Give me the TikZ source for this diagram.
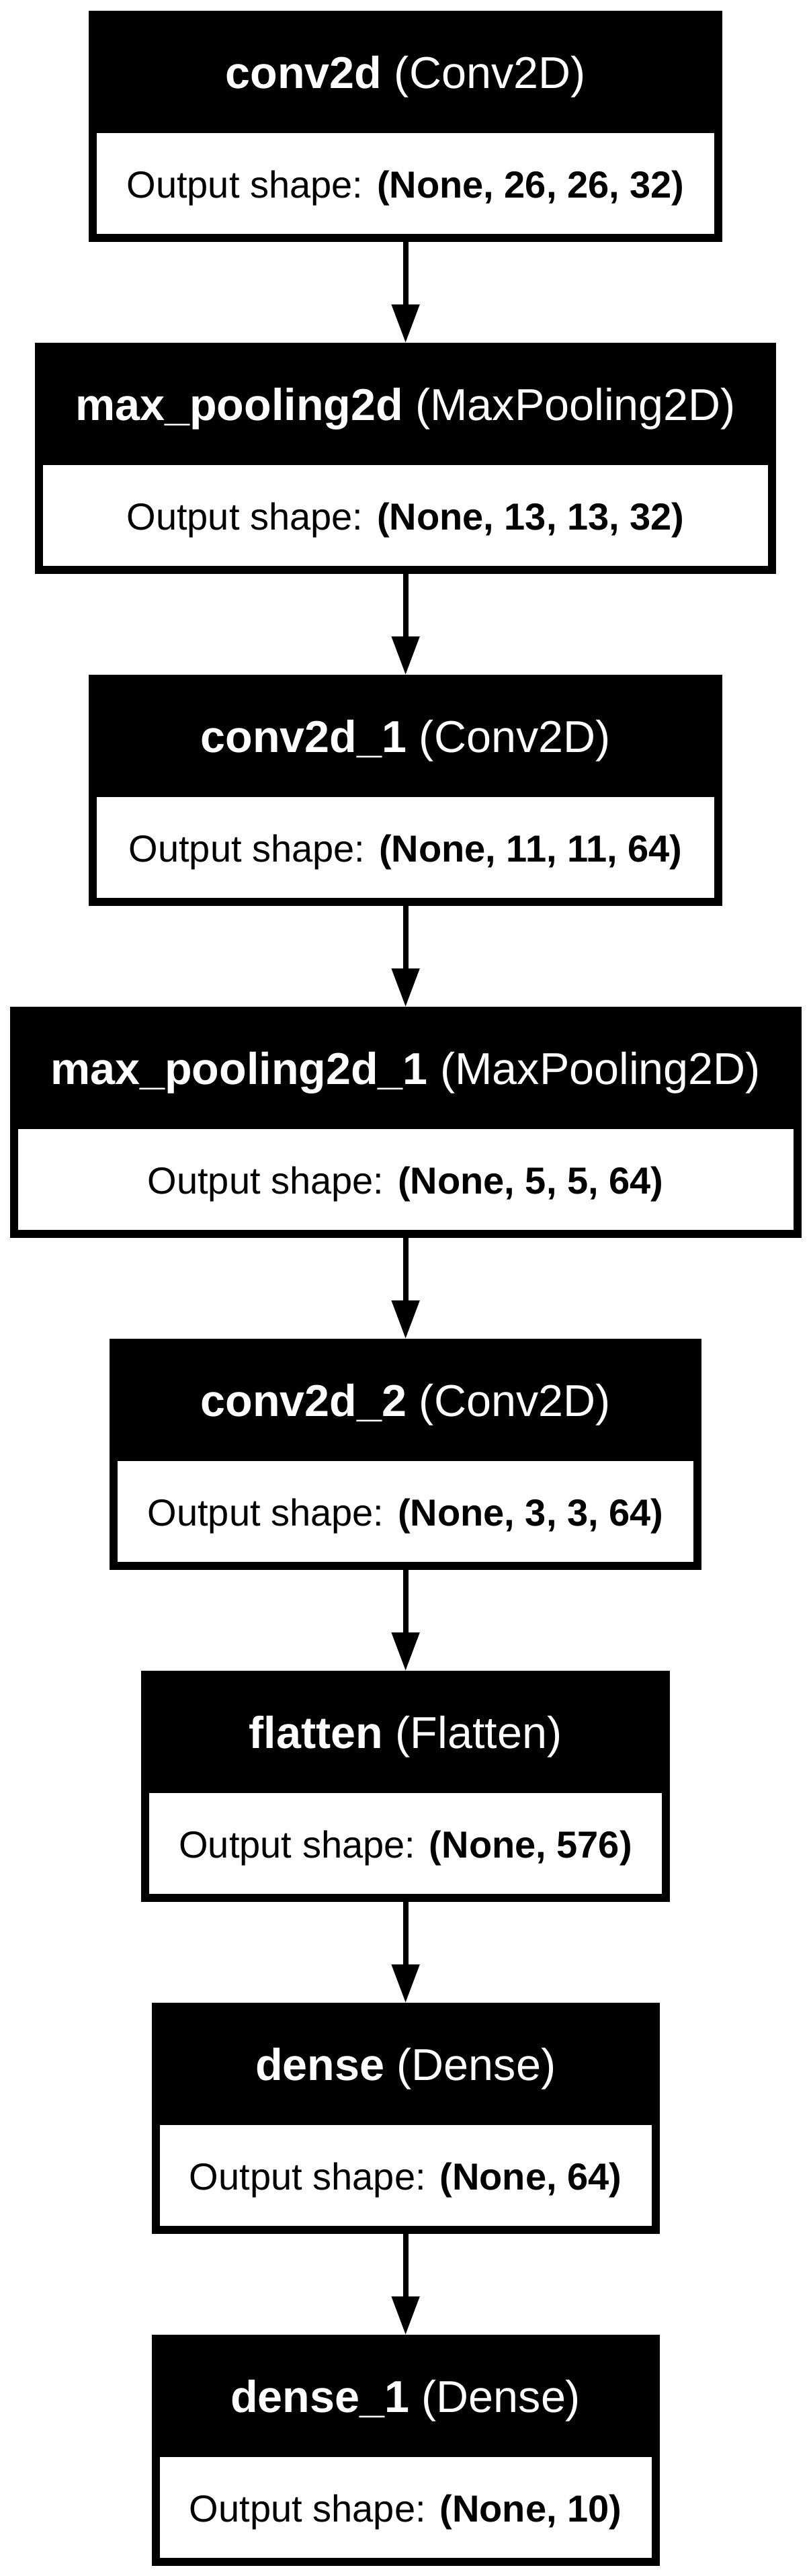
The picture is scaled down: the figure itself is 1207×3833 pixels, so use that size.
\documentclass[tikz,border=0pt]{standalone}
\usepackage{fontspec}
\setmainfont{Liberation Sans}
\usetikzlibrary{arrows.meta}
\tikzset{
  outerbox/.style={fill=black, draw=none, inner sep=0pt, minimum height=344pt, anchor=north},
  innerbox/.style={fill=white, draw=none, inner sep=0pt, minimum height=150pt, anchor=north},
  headtext/.style={text=white, font=\fontsize{66.5}{80}\selectfont, anchor=base, inner sep=0pt},
  bodytext/.style={text=black, font=\fontsize{56}{67}\selectfont, anchor=base, inner sep=0pt},
  flow/.style={line width=8pt, -{Triangle[length=57pt,width=40pt]}},
}
\newcommand{\kLayer}[6]{%
  \pgfmathsetmacro\kty{16+494*#2}%
  \pgfmathsetmacro\kiw{#3-24}%
  \node[outerbox, minimum width=#3pt] (#1) at (603.6,\kty) {};
  \node[innerbox, minimum width=\kiw pt] (#1-out) at (603.6,\kty+182) {};
  \node[headtext] (#1-title) at (603.6,\kty+115.7) {\textbf{#4} #5};
  \node[bodytext] (#1-shape) at (603.6,\kty+278) {Output shape: \textbf{#6}};
}
\begin{document}
\begin{tikzpicture}[x=1pt,y=-1pt]
\useasboundingbox (0,0) rectangle (1207,3833);
\kLayer{l0}{0}{943}{conv2d}{(Conv2D)}{(None, 26, 26, 32)}
\kLayer{l1}{1}{1103}{max\_pooling2d}{(MaxPooling2D)}{(None, 13, 13, 32)}
\kLayer{l2}{2}{943}{conv2d\_1}{(Conv2D)}{(None, 11, 11, 64)}
\kLayer{l3}{3}{1178}{max\_pooling2d\_1}{(MaxPooling2D)}{(None, 5, 5, 64)}
\kLayer{l4}{4}{881}{conv2d\_2}{(Conv2D)}{(None, 3, 3, 64)}
\kLayer{l5}{5}{787}{flatten}{(Flatten)}{(None, 576)}
\kLayer{l6}{6}{756}{dense}{(Dense)}{(None, 64)}
\kLayer{l7}{7}{756}{dense\_1}{(Dense)}{(None, 10)}
\draw[flow] (l0.south) -- (l1.north);
\draw[flow] (l1.south) -- (l2.north);
\draw[flow] (l2.south) -- (l3.north);
\draw[flow] (l3.south) -- (l4.north);
\draw[flow] (l4.south) -- (l5.north);
\draw[flow] (l5.south) -- (l6.north);
\draw[flow] (l6.south) -- (l7.north);
\end{tikzpicture}
\end{document}
